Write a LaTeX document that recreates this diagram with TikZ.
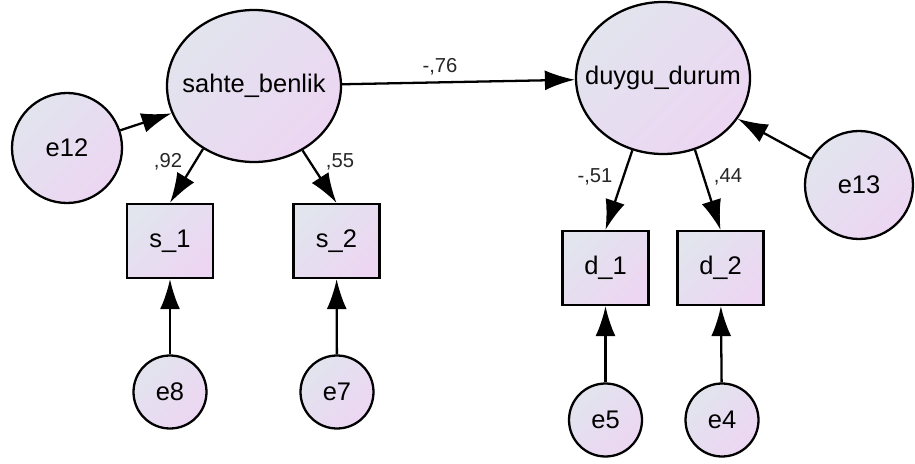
\documentclass[tikz,border=0pt]{standalone}
\usepackage{fontspec}
\setmainfont{Liberation Sans}
\usepackage{xcolor}
\usetikzlibrary{arrows.meta, positioning, calc, shapes.geometric}

\definecolor{semgray}{RGB}{226,228,238}
\definecolor{sempink}{RGB}{236,214,242}

\begin{document}
\begin{tikzpicture}[scale=1,
	every node/.style={font=\fontsize{14.5}{17}\selectfont},
	fillshade/.style={draw=black, line width=1.3pt, top color=semgray, bottom color=sempink, shading angle=45},
	latent/.style={fillshade, ellipse, inner sep=0pt, minimum width=3.48cm, minimum height=3.04cm},
	observed/.style={fillshade, rectangle, inner sep=0pt, minimum width=1.72cm, minimum height=1.48cm},
	errvar/.style={fillshade, circle, inner sep=0pt, minimum size=#1},
	causal/.style={line width=1.3pt, -{Latex[length=6mm, width=4mm]}},
	lbl/.style={font=\fontsize{11.5}{13}\selectfont, text=black!85}]
				
				\useasboundingbox (0,0) rectangle (18.3,9.26);
				
				% Latent variables (text kept out of the ellipse size)
				\node[latent] (sahte) at (5.08,7.54) {\makebox[0pt]{sahte\_benlik}};
				\node[latent] (duygu) at (13.26,7.70) {\makebox[0pt]{duygu\_durum}};
				
				% Disturbances
				\node[errvar=2.2cm] (e12) at (1.34,6.30) {e12};
				\node[errvar=2.16cm] (e13) at (17.18,5.56) {e13};
				
				% Indicators
				\node[observed] (s1) at (3.40,4.44) {s\_1};
				\node[observed] (s2) at (6.73,4.44) {s\_2};
				\node[observed] (d1) at (12.11,3.90) {d\_1};
				\node[observed] (d2) at (14.41,3.90) {d\_2};
				
				% Measurement errors
				\node[errvar=1.46cm] (e8) at (3.40,1.42) {e8};
				\node[errvar=1.46cm] (e7) at (6.74,1.42) {e7};
				\node[errvar=1.46cm] (e5) at (12.11,0.86) {e5};
				\node[errvar=1.46cm] (e4) at (14.44,0.86) {e4};
				
				% Structural path
				\draw[causal] (sahte) -- (duygu);
				\draw[causal] (e12) -- (sahte);
				\draw[causal] (e13) -- (duygu);
				
				% Loadings
				\draw[causal] (sahte.231) -- (s1.north);
				\draw[causal] (sahte.307) -- (s2.north);
				\draw[causal] (duygu.247) -- (d1.north);
				\draw[causal] (duygu.294) -- (d2.north);
				
				% Errors to indicators
				\draw[causal] (e8) -- (s1);
				\draw[causal] (e7) -- (s2);
				\draw[causal] (e5) -- (d1);
				\draw[causal] (e4) -- (d2);
				
				% Estimates
				\node[lbl] (l76) at (8.80,7.92) {-,76};
				\node[lbl] (l92) at (3.36,6.02) {,92};
				\node[lbl] (l55) at (6.80,6.02) {,55};
				\node[lbl] (l51) at (11.90,5.72) {-,51};
				\node[lbl] (l44) at (14.56,5.72) {,44};
				
			\end{tikzpicture}
\end{document}
